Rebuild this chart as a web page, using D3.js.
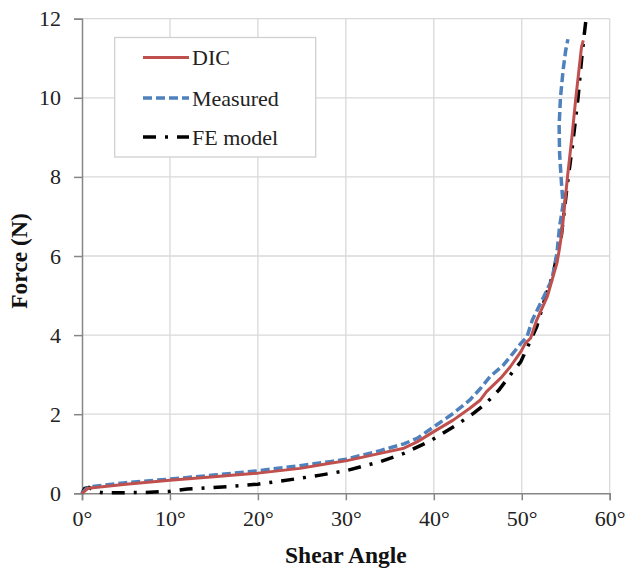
<!DOCTYPE html>
<html>
<head>
<meta charset="utf-8">
<script src="https://cdn.jsdelivr.net/npm/d3@7"></script>
<style>
  body { margin: 0; background: #fff; }
</style>
</head>
<body>
<script>
// series data: [shear angle (deg), force (N)]
var dicData = [[0,0],[0.7,0.13],[5,0.23],[10,0.33],[15,0.42],[20,0.51],[24.8,0.63],[28.2,0.76],[30,0.82],
  [33.9,1.01],[36.6,1.14],[38.1,1.30],[40,1.56],[42.2,1.85],[44.1,2.15],[45.3,2.36],[46.0,2.57],[47.6,2.91],
  [48.7,3.2],[49.9,3.58],[50.4,3.79],[51.0,3.92],[51.7,4.38],[52.9,4.97],[54.0,5.82],[54.3,6.2],[54.6,6.66],
  [55.2,8.0],[55.7,9.0],[56.15,10.0],[56.8,11.29],[57.0,11.45]];

var measuredData = [[0,0],[0.5,0.12],[1,0.17],[5,0.27],[10,0.36],[15,0.46],[20,0.57],[24.8,0.70],[28.2,0.80],
  [30,0.86],[33.9,1.08],[36.6,1.25],[38.1,1.39],[40,1.68],[42.2,2.02],[44.1,2.36],[45.3,2.65],[46.4,2.95],
  [47.9,3.24],[49,3.54],[49.9,3.79],[50.6,3.96],[51.2,4.38],[52.5,4.97],[53.4,5.39],[53.8,5.82],[54.0,6.07],
  [54.3,6.74],[54.7,7.3],[54.5,7.9],[54.3,8.6],[54.25,9.3],[54.4,10.0],[54.7,10.7],[55.0,11.2],[55.25,11.48]];

var feData = [[0,0],[0.3,0.12],[0.8,0.15],[1.5,0.05],[2.5,0.01],[7,0.02],[10,0.05],[12,0.11],[14.3,0.14],
  [17.3,0.18],[20,0.23],[24.8,0.38],[27.1,0.46],[30,0.57],[33.9,0.80],[36.6,1.01],[39.2,1.28],[40.4,1.43],
  [42.6,1.73],[44.5,2.02],[45.96,2.28],[47.4,2.61],[48.9,3.05],[49.9,3.33],[50.7,3.72],[51.7,4.21],[52.7,4.97],
  [53.6,5.56],[54.1,6.15],[54.4,6.32],[55.2,7.84],[55.8,8.85],[56.4,10.0],[56.8,10.96],[57.1,11.59],[57.3,11.97]];

var xTicks = [0, 10, 20, 30, 40, 50, 60];
var yTicks = [0, 2, 4, 6, 8, 10, 12];
var seriesNames = ["DIC", "Measured", "FE model"];

var w = 627, h = 570;
var plotLeft = 82, plotRight = 609.7, plotTop = 18.7, plotBottom = 493.3;
var serif = "Liberation Serif, DejaVu Serif, serif";

var svg = d3.select("body").append("svg")
    .attr("width", w)
    .attr("height", h);

var x = d3.scaleLinear().domain([0, 60]).range([plotLeft, plotRight]);
var y = d3.scaleLinear().domain([0, 12]).range([plotBottom, plotTop]);

// gridlines
svg.selectAll(".vgrid")
    .data(xTicks.slice(1))
    .enter()
    .append("line")
    .attr("x1", function(d) { return x(d); })
    .attr("x2", function(d) { return x(d); })
    .attr("y1", plotTop)
    .attr("y2", plotBottom)
    .style("stroke", "#d9d9d9")
    .style("stroke-width", 1.3);

svg.selectAll(".hgrid")
    .data(yTicks.slice(1))
    .enter()
    .append("line")
    .attr("x1", plotLeft)
    .attr("x2", plotRight)
    .attr("y1", function(d) { return y(d); })
    .attr("y2", function(d) { return y(d); })
    .style("stroke", "#d9d9d9")
    .style("stroke-width", 1.3);

// axes
var xAxis = svg.append("g")
    .attr("transform", "translate(0," + plotBottom + ")")
    .call(d3.axisBottom(x).tickValues(xTicks).tickSize(7).tickPadding(10)
        .tickFormat(function(d) { return d + "\u00b0"; }));

var yAxis = svg.append("g")
    .attr("transform", "translate(" + plotLeft + ",0)")
    .call(d3.axisLeft(y).tickValues(yTicks).tickSize(8).tickPadding(13));

[xAxis, yAxis].forEach(function(a) {
    a.attr("font-family", null).attr("font-size", null);
    a.select(".domain").style("stroke", "#868686").style("stroke-width", 1.5);
    a.selectAll(".tick line").style("stroke", "#868686").style("stroke-width", 1.5);
    a.selectAll(".tick text")
        .style("font-family", serif)
        .style("font-size", "22px")
        .style("fill", "#222");
});

// curves
var line = d3.line()
    .x(function(d) { return x(d[0]); })
    .y(function(d) { return y(d[1]); });

var styles = [
    { data: dicData, color: "#c0504d", width: 3, dash: null },
    { data: measuredData, color: "#4f81bd", width: 3.5, dash: "9,4" },
    { data: feData, color: "#000", width: 3.5, dash: "13,9,3,9" }
];

// draw FE first, then measured, then DIC on top
[styles[2], styles[1], styles[0]].forEach(function(s) {
    svg.append("path")
        .datum(s.data)
        .attr("d", line)
        .style("fill", "none")
        .style("stroke", s.color)
        .style("stroke-width", s.width)
        .style("stroke-linejoin", "round")
        .style("stroke-dasharray", s.dash);
});

// legend
svg.append("rect")
    .attr("x", 114.7)
    .attr("y", 37.5)
    .attr("width", 201)
    .attr("height", 119.5)
    .style("fill", "#fff")
    .style("stroke", "#d0d0d0")
    .style("stroke-width", 1.3);

var legendRows = [57.5, 98, 137];
styles.forEach(function(s, i) {
    svg.append("line")
        .attr("x1", 143)
        .attr("x2", 189)
        .attr("y1", legendRows[i])
        .attr("y2", legendRows[i])
        .style("stroke", s.color)
        .style("stroke-width", s.width)
        .style("stroke-dasharray", s.dash);
    svg.append("text")
        .attr("x", 192)
        .attr("y", legendRows[i] + 7.5)
        .style("font-family", serif)
        .style("font-size", "22px")
        .style("fill", "#222")
        .text(seriesNames[i]);
});

// axis titles
svg.append("text")
    .attr("x", (plotLeft + plotRight) / 2)
    .attr("y", 563)
    .attr("text-anchor", "middle")
    .style("font-family", serif)
    .style("font-size", "23.5px")
    .style("font-weight", "bold")
    .style("fill", "#111")
    .text("Shear Angle");

svg.append("text")
    .attr("transform", "translate(27,261) rotate(-90)")
    .attr("text-anchor", "middle")
    .style("font-family", serif)
    .style("font-size", "23.5px")
    .style("font-weight", "bold")
    .style("fill", "#111")
    .text("Force (N)");
</script>
</body>
</html>
